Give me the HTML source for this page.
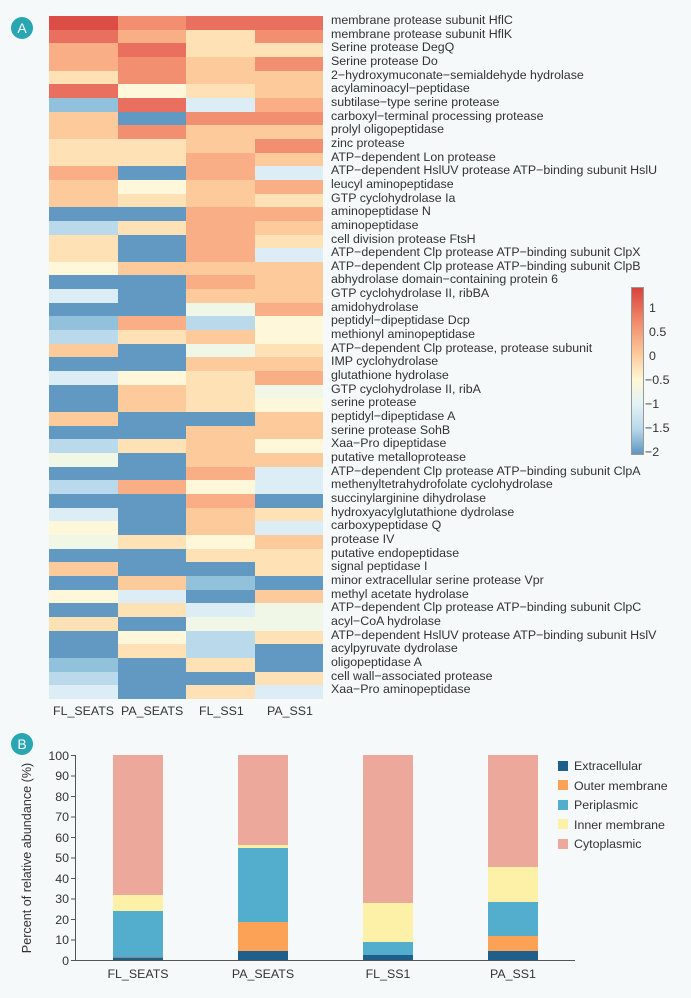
<!DOCTYPE html>
<html><head><meta charset="utf-8"><style>
body{margin:0;width:691px;height:998px;background:#f6f9f9;position:relative;overflow:hidden;font-family:"Liberation Sans",sans-serif;color:#333}
.hm{position:absolute;left:49px;top:16px;width:274px;display:grid;grid-template-columns:repeat(4,68.5px);grid-auto-rows:13.66px}
.hm i{display:block}
.R{background:#dc4d45}.r{background:#e9705f}.o{background:#f28f70}.p{background:#f9ae86}.q{background:#fdca9c}.y{background:#fee1b4}.w{background:#fff7d9}.g{background:#f1f7e6}.l{background:#dcedf5}.c{background:#bad9ea}.m{background:#92c1dc}.b{background:#6299c3}
.lab{position:absolute;left:331px;top:14px;font-size:12.4px;line-height:13.66px;white-space:nowrap}
.circ{position:absolute;width:22px;height:22px;border-radius:50%;background:#2aa6b3;color:#fff;font-size:14px;text-align:center;line-height:22px}
.t{position:absolute;font-size:12.4px}
</style></head><body>
<div class="circ" style="left:11px;top:17px">A</div>
<div class="circ" style="left:11px;top:733px">B</div>
<div class="hm">
<i class=R></i><i class=o></i><i class=r></i><i class=r></i>
<i class=r></i><i class=p></i><i class=y></i><i class=o></i>
<i class=p></i><i class=r></i><i class=y></i><i class=y></i>
<i class=p></i><i class=o></i><i class=q></i><i class=o></i>
<i class=y></i><i class=o></i><i class=q></i><i class=q></i>
<i class=r></i><i class=w></i><i class=y></i><i class=q></i>
<i class=m></i><i class=r></i><i class=l></i><i class=p></i>
<i class=q></i><i class=b></i><i class=o></i><i class=o></i>
<i class=q></i><i class=o></i><i class=q></i><i class=q></i>
<i class=y></i><i class=y></i><i class=q></i><i class=o></i>
<i class=y></i><i class=y></i><i class=p></i><i class=q></i>
<i class=p></i><i class=b></i><i class=p></i><i class=l></i>
<i class=q></i><i class=w></i><i class=q></i><i class=p></i>
<i class=q></i><i class=y></i><i class=q></i><i class=y></i>
<i class=b></i><i class=b></i><i class=p></i><i class=p></i>
<i class=c></i><i class=y></i><i class=p></i><i class=q></i>
<i class=y></i><i class=b></i><i class=p></i><i class=y></i>
<i class=y></i><i class=b></i><i class=p></i><i class=l></i>
<i class=w></i><i class=q></i><i class=q></i><i class=q></i>
<i class=b></i><i class=b></i><i class=p></i><i class=q></i>
<i class=l></i><i class=b></i><i class=q></i><i class=q></i>
<i class=b></i><i class=b></i><i class=g></i><i class=p></i>
<i class=m></i><i class=p></i><i class=c></i><i class=w></i>
<i class=c></i><i class=y></i><i class=q></i><i class=w></i>
<i class=q></i><i class=b></i><i class=g></i><i class=y></i>
<i class=b></i><i class=b></i><i class=q></i><i class=q></i>
<i class=l></i><i class=w></i><i class=y></i><i class=p></i>
<i class=b></i><i class=q></i><i class=y></i><i class=g></i>
<i class=b></i><i class=q></i><i class=y></i><i class=w></i>
<i class=q></i><i class=b></i><i class=b></i><i class=q></i>
<i class=b></i><i class=b></i><i class=q></i><i class=q></i>
<i class=c></i><i class=y></i><i class=q></i><i class=w></i>
<i class=g></i><i class=b></i><i class=q></i><i class=q></i>
<i class=b></i><i class=b></i><i class=p></i><i class=l></i>
<i class=c></i><i class=p></i><i class=w></i><i class=l></i>
<i class=b></i><i class=b></i><i class=p></i><i class=b></i>
<i class=l></i><i class=b></i><i class=q></i><i class=y></i>
<i class=w></i><i class=b></i><i class=q></i><i class=l></i>
<i class=g></i><i class=y></i><i class=w></i><i class=q></i>
<i class=b></i><i class=b></i><i class=y></i><i class=y></i>
<i class=q></i><i class=b></i><i class=b></i><i class=y></i>
<i class=b></i><i class=q></i><i class=m></i><i class=b></i>
<i class=w></i><i class=l></i><i class=b></i><i class=q></i>
<i class=b></i><i class=y></i><i class=l></i><i class=g></i>
<i class=y></i><i class=b></i><i class=g></i><i class=g></i>
<i class=b></i><i class=w></i><i class=c></i><i class=y></i>
<i class=b></i><i class=y></i><i class=c></i><i class=b></i>
<i class=m></i><i class=b></i><i class=y></i><i class=b></i>
<i class=c></i><i class=b></i><i class=b></i><i class=y></i>
<i class=l></i><i class=b></i><i class=y></i><i class=l></i>
</div>
<div class="lab">membrane protease subunit HflC<br>membrane protease subunit HflK<br>Serine protease DegQ<br>Serine protease Do<br>2−hydroxymuconate−semialdehyde hydrolase<br>acylaminoacyl−peptidase<br>subtilase−type serine protease<br>carboxyl−terminal processing protease<br>prolyl oligopeptidase<br>zinc protease<br>ATP−dependent Lon protease<br>ATP−dependent HslUV protease ATP−binding subunit HslU<br>leucyl aminopeptidase<br>GTP cyclohydrolase Ia<br>aminopeptidase N<br>aminopeptidase<br>cell division protease FtsH<br>ATP−dependent Clp protease ATP−binding subunit ClpX<br>ATP−dependent Clp protease ATP−binding subunit ClpB<br>abhydrolase domain−containing protein 6<br>GTP cyclohydrolase II, ribBA<br>amidohydrolase<br>peptidyl−dipeptidase Dcp<br>methionyl aminopeptidase<br>ATP−dependent Clp protease, protease subunit<br>IMP cyclohydrolase<br>glutathione hydrolase<br>GTP cyclohydrolase II, ribA<br>serine protease<br>peptidyl−dipeptidase A<br>serine protease SohB<br>Xaa−Pro dipeptidase<br>putative metalloprotease<br>ATP−dependent Clp protease ATP−binding subunit ClpA<br>methenyltetrahydrofolate cyclohydrolase<br>succinylarginine dihydrolase<br>hydroxyacylglutathione dydrolase<br>carboxypeptidase Q<br>protease IV<br>putative endopeptidase<br>signal peptidase I<br>minor extracellular serine protease Vpr<br>methyl acetate hydrolase<br>ATP−dependent Clp protease ATP−binding subunit ClpC<br>acyl−CoA hydrolase<br>ATP−dependent HslUV protease ATP−binding subunit HslV<br>acylpyruvate dydrolase<br>oligopeptidase A<br>cell wall−associated protease<br>Xaa−Pro aminopeptidase</div>
<div class="t" style="left:53px;top:704px">FL_SEATS</div>
<div class="t" style="left:121px;top:704px">PA_SEATS</div>
<div class="t" style="left:199px;top:704px">FL_SS1</div>
<div class="t" style="left:267px;top:704px">PA_SS1</div>
<div style="position:absolute;left:631px;top:287px;width:11px;height:166px;border:0.5px solid #999;background:linear-gradient(#d8433c 0%,#f08a6a 20%,#fdca9a 40%,#fff7d6 55%,#e3f2f6 70%,#b7d8ea 85%,#5f95c0 100%)"></div>
<div class="t" style="left:649px;top:301px">1</div>
<div class="t" style="left:649px;top:325px">0.5</div>
<div class="t" style="left:649px;top:349px">0</div>
<div class="t" style="left:645px;top:373px">−0.5</div>
<div class="t" style="left:645px;top:397px">−1</div>
<div class="t" style="left:645px;top:421px">−1.5</div>
<div class="t" style="left:645px;top:445px">−2</div>
<svg style="position:absolute;left:0;top:0" width="691" height="998" font-family="Liberation Sans, sans-serif" font-size="12.4" fill="#333">
<g stroke="#555" stroke-width="1"><line x1="75.5" y1="755" x2="75.5" y2="960"/><line x1="75" y1="960.5" x2="575" y2="960.5"/>
<line x1="71" y1="960.5" x2="75" y2="960.5"/><line x1="71" y1="940" x2="75" y2="940"/><line x1="71" y1="919.5" x2="75" y2="919.5"/><line x1="71" y1="899" x2="75" y2="899"/><line x1="71" y1="878.5" x2="75" y2="878.5"/><line x1="71" y1="858" x2="75" y2="858"/><line x1="71" y1="837.5" x2="75" y2="837.5"/><line x1="71" y1="817" x2="75" y2="817"/><line x1="71" y1="796.5" x2="75" y2="796.5"/><line x1="71" y1="776" x2="75" y2="776"/><line x1="71" y1="755.5" x2="75" y2="755.5"/></g>
<g text-anchor="end"><text x="69" y="965">0</text><text x="69" y="944">10</text><text x="69" y="924">20</text><text x="69" y="903">30</text><text x="69" y="883">40</text><text x="69" y="862">50</text><text x="69" y="842">60</text><text x="69" y="821">70</text><text x="69" y="801">80</text><text x="69" y="780">90</text><text x="69" y="760">100</text></g>
<text transform="translate(31,858) rotate(-90)" text-anchor="middle" font-size="12.6">Percent of relative abundance (%)</text>
<g>
<rect x="113" y="755" width="50" height="140" fill="#eba89b"/><rect x="113" y="895" width="50" height="16" fill="#fdf1a8"/><rect x="113" y="911" width="50" height="47" fill="#52aecc"/><rect x="113" y="957" width="50" height="1" fill="#888"/><rect x="113" y="958" width="50" height="2" fill="#1f5f8b"/>
<rect x="238" y="755" width="50" height="90" fill="#eba89b"/><rect x="238" y="845" width="50" height="3" fill="#fdf1a8"/><rect x="238" y="848" width="50" height="74" fill="#52aecc"/><rect x="238" y="922" width="50" height="29" fill="#fba256"/><rect x="238" y="951" width="50" height="9" fill="#1f5f8b"/>
<rect x="363" y="755" width="50" height="148" fill="#eba89b"/><rect x="363" y="903" width="50" height="39" fill="#fdf1a8"/><rect x="363" y="942" width="50" height="13" fill="#52aecc"/><rect x="363" y="955" width="50" height="5" fill="#1f5f8b"/>
<rect x="488" y="755" width="50" height="112" fill="#eba89b"/><rect x="488" y="867" width="50" height="35" fill="#fdf1a8"/><rect x="488" y="902" width="50" height="34" fill="#52aecc"/><rect x="488" y="936" width="50" height="15" fill="#fba256"/><rect x="488" y="951" width="50" height="9" fill="#1f5f8b"/>
</g>
<g text-anchor="middle"><text x="138" y="978">FL_SEATS</text><text x="263" y="978">PA_SEATS</text><text x="388" y="978">FL_SS1</text><text x="513" y="978">PA_SS1</text></g>
<rect x="558" y="761" width="10" height="10" fill="#1f5f8b"/><rect x="558" y="780" width="10" height="10" fill="#fba256"/><rect x="558" y="800" width="10" height="10" fill="#52aecc"/><rect x="558" y="819" width="10" height="10" fill="#fdf1a8"/><rect x="558" y="839" width="10" height="10" fill="#eba89b"/>
<text x="574" y="770">Extracellular</text><text x="574" y="790">Outer membrane</text><text x="574" y="809">Periplasmic</text><text x="574" y="829">Inner membrane</text><text x="574" y="848">Cytoplasmic</text>
</svg>
</body></html>
